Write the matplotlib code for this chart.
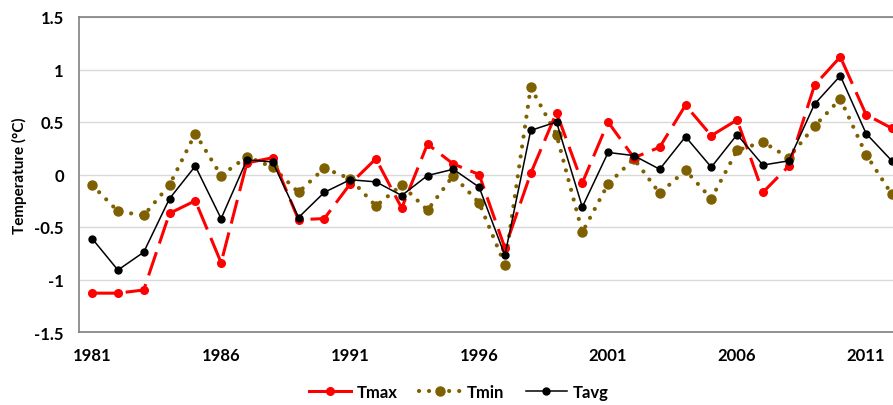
import numpy as np
import matplotlib.pyplot as plt
from matplotlib.lines import Line2D

plt.rcParams['font.family'] = ['Lato', 'DejaVu Sans']
plt.rcParams['font.weight'] = 'bold'

years = list(range(1981, 2013))
tmax = [-1.13, -1.13, -1.10, -0.37, -0.25, -0.84, 0.11, 0.16, -0.43, -0.42,
        -0.09, 0.15, -0.32, 0.29, 0.10, 0.00, -0.70, 0.01, 0.59, -0.08,
        0.50, 0.16, 0.26, 0.66, 0.37, 0.52, -0.17, 0.08, 0.85, 1.12,
        0.57, 0.44]
tmin = [-0.10, -0.35, -0.39, -0.10, 0.39, -0.01, 0.17, 0.07, -0.17, 0.06,
        -0.04, -0.30, -0.10, -0.34, -0.01, -0.27, -0.86, 0.83, 0.38, -0.55,
        -0.09, 0.15, -0.18, 0.04, -0.23, 0.23, 0.31, 0.16, 0.46, 0.72,
        0.19, -0.19]
tavg = [-0.61, -0.91, -0.74, -0.23, 0.08, -0.42, 0.14, 0.12, -0.41, -0.17,
        -0.05, -0.07, -0.20, -0.01, 0.05, -0.12, -0.77, 0.42, 0.50, -0.31,
        0.21, 0.18, 0.05, 0.36, 0.07, 0.38, 0.09, 0.13, 0.67, 0.94,
        0.39, 0.13]

fig = plt.figure(figsize=(8.93, 4.06), dpi=100)
# right side of the original chart is cut off, so the axes run past the figure
ax = fig.add_axes([79.2 / 893, 1 - 333 / 406, 825.6 / 893, 315 / 406])

ax.plot(years, tmax, color='#FF0000', lw=2.2, dashes=(8, 3),
        marker='o', ms=5.5, label='Tmax', zorder=3)
l_min, = ax.plot(years, tmin, color='#7F6000', lw=3.0, dashes=(0.01, 2.4),
                 dash_capstyle='round', marker='o', ms=6.5, label='Tmin',
                 zorder=2)
l_avg, = ax.plot(years, tavg, color='black', lw=1.1, marker='o', ms=5,
                 label='Tavg', zorder=4)

ax.set_xlim(1980.5, 2012.5)
ax.set_ylim(-1.5, 1.5)
ax.set_xticks(range(1981, 2013, 5))
ax.set_yticks(np.arange(-1.5, 1.51, 0.5))
ax.set_yticklabels(['-1.5', '-1', '-0.5', '0', '0.5', '1', '1.5'])
ax.tick_params(length=0, labelsize=12, pad=11)
ax.grid(axis='y', color='#D9D9D9', lw=1)
ax.set_axisbelow(True)
for s in ax.spines.values():
    s.set_color('#808080')
    s.set_linewidth(1.2)

ax.set_ylabel('Temperature (°C)', fontsize=11, fontweight='bold', labelpad=5)

# the legend shows the Tmax line as solid, like the original
h_max = Line2D([], [], color='#FF0000', lw=2.2, marker='o', ms=5.5)
fig.legend([h_max, l_min, l_avg], ['Tmax', 'Tmin', 'Tavg'], loc='center',
           bbox_to_anchor=(459 / 893, 1 - 393 / 406), ncol=3,
           frameon=False, fontsize=12, handlelength=2.5, handletextpad=0.35,
           columnspacing=1.3)

fig.savefig('out.png', dpi=100)
